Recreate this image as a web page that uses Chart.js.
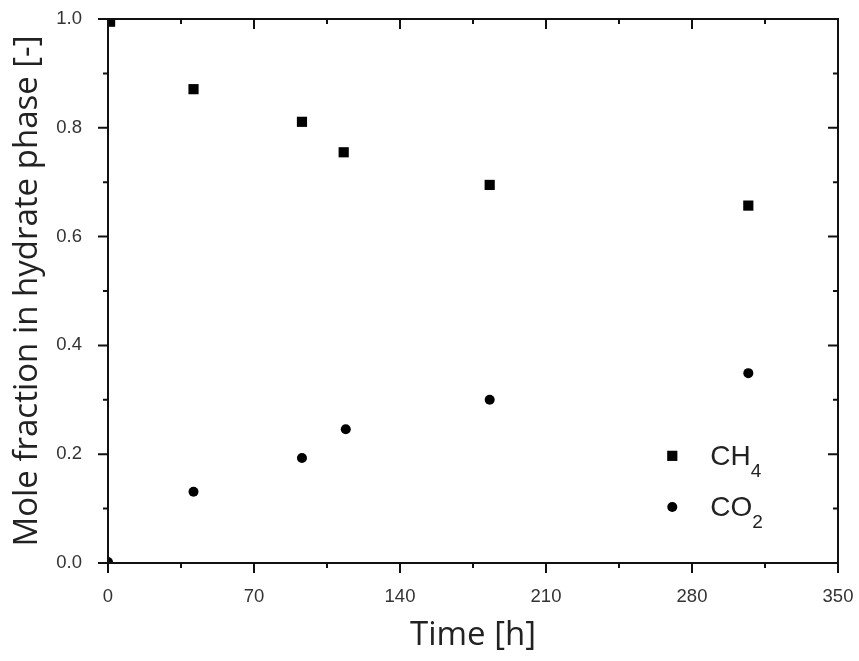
<!DOCTYPE html>
<html>
<head>
<meta charset="utf-8">
<script src="https://cdn.jsdelivr.net/npm/chart.js@4/dist/chart.umd.min.js"></script>
<style>
  html, body { margin: 0; padding: 0; background: #fff; }
  #wrap { width: 859px; height: 661px; }
</style>
</head>
<body>
<div id="wrap"><canvas id="chart" width="859" height="661"></canvas></div>
<script>
// data
const timeCH4 = [1, 41, 93, 113, 183, 307];
const ch4 = [0.995, 0.871, 0.811, 0.755, 0.695, 0.657];
const timeCO2 = [0, 41, 93, 114, 183, 307];
const co2 = [0.002, 0.131, 0.193, 0.246, 0.300, 0.349];

const xTicks = [0, 70, 140, 210, 280, 350];
const xMinor = [35, 105, 175, 245, 315];
const yTicks = [0.0, 0.2, 0.4, 0.6, 0.8, 1.0];
const yMinor = [0.1, 0.3, 0.5, 0.7, 0.9];

const toPoints = (xs, ys) => xs.map((x, i) => ({x, y: ys[i]}));

// frame + origin style ticks (out on left/bottom, in on top/right)
const framePlugin = {
  id: 'frame',
  afterDatasetsDraw(chart) {
    const {ctx, chartArea: a, scales: {x, y}} = chart;
    ctx.save();
    ctx.strokeStyle = '#111';
    ctx.lineWidth = 2;
    ctx.strokeRect(a.left, a.top, a.right - a.left, a.bottom - a.top);
    const tick = (vals, len) => {
      vals.forEach(v => {
        const px = x.getPixelForValue(v);
        ctx.beginPath();
        ctx.moveTo(px, a.bottom); ctx.lineTo(px, a.bottom + len);
        ctx.moveTo(px, a.top); ctx.lineTo(px, a.top + len);
        ctx.stroke();
      });
    };
    const tickY = (vals, len) => {
      vals.forEach(v => {
        const py = y.getPixelForValue(v);
        ctx.beginPath();
        ctx.moveTo(a.left, py); ctx.lineTo(a.left - len, py);
        ctx.moveTo(a.right, py); ctx.lineTo(a.right - len, py);
        ctx.stroke();
      });
    };
    tick(xTicks, 10); tick(xMinor, 5);
    tickY(yTicks, 10); tickY(yMinor, 5);
    ctx.restore();
  }
};

// legend inside plot with subscripts
const legendPlugin = {
  id: 'subLegend',
  afterDraw(chart) {
    const {ctx, chartArea: a} = chart;
    const w = a.right - a.left, h = a.bottom - a.top;
    const mx = a.left + 0.773 * w;
    const tx = a.left + 0.825 * w;
    const rows = [[0, 'CH', '4', 0.803], [1, 'CO', '2', 0.897]];
    ctx.save();
    rows.forEach(([di, main, sub, fy]) => {
      const ds = chart.data.datasets[di];
      const my = a.top + fy * h;
      ctx.fillStyle = ds.backgroundColor;
      ctx.strokeStyle = ds.borderColor;
      Chart.helpers.drawPoint(ctx, {pointStyle: ds.pointStyle, radius: ds.pointRadius, borderWidth: 0, rotation: 0}, mx, my);
      ctx.fillStyle = '#222';
      ctx.textBaseline = 'alphabetic';
      ctx.textAlign = 'left';
      ctx.font = '28px "Liberation Sans", Arial, sans-serif';
      ctx.fillText(main, tx, my + 9.5);
      const mw = ctx.measureText(main).width;
      ctx.font = '19px "Liberation Sans", Arial, sans-serif';
      ctx.fillText(sub, tx + mw, my + 21);
    });
    ctx.restore();
  }
};

const noPad = s => { s.paddingTop = 0; s.paddingBottom = 0; s.paddingLeft = 0; s.paddingRight = 0; };

new Chart(document.getElementById('chart'), {
  type: 'scatter',
  data: {
    datasets: [
      {label: 'CH4', data: toPoints(timeCH4, ch4), pointStyle: 'rect', pointRadius: 7.2,
       backgroundColor: '#000', borderColor: '#000', borderWidth: 0},
      {label: 'CO2', data: toPoints(timeCO2, co2), pointStyle: 'circle', pointRadius: 5,
       backgroundColor: '#000', borderColor: '#000', borderWidth: 0}
    ]
  },
  options: {
    responsive: false,
    animation: false,
    layout: {padding: {top: 19, right: 21, left: 0, bottom: 0}},
    plugins: {legend: {display: false}, tooltip: {enabled: false}},
    scales: {
      x: {
        type: 'linear', min: 0, max: 350,
        afterBuildTicks: s => { s.ticks = xTicks.map(v => ({value: v})); },
        afterFit: s => { s.height = 98; noPad(s); },
        grid: {display: false}, border: {display: false},
        ticks: {padding: 15, color: '#333', font: {family: '"Liberation Sans", Arial, sans-serif', size: 18.5}, maxRotation: 0},
        title: {display: true, text: 'Time [h]', color: '#222',
                font: {family: '"Open Sans", sans-serif', size: 33}, padding: {top: 0, bottom: 6}}
      },
      y: {
        type: 'linear', min: 0, max: 1,
        afterBuildTicks: s => { s.ticks = yTicks.map(v => ({value: v})); },
        afterFit: s => { s.width = 108; noPad(s); },
        grid: {display: false}, border: {display: false},
        ticks: {padding: 18, color: '#333', font: {family: '"Liberation Sans", Arial, sans-serif', size: 18.5},
                callback: v => v.toFixed(1)},
        title: {display: true, text: 'Mole fraction in hydrate phase [-]', color: '#222',
                font: {family: '"Open Sans", sans-serif', size: 33}, padding: {top: 8, bottom: 0}}
      }
    }
  },
  plugins: [framePlugin, legendPlugin]
});
</script>
</body>
</html>
